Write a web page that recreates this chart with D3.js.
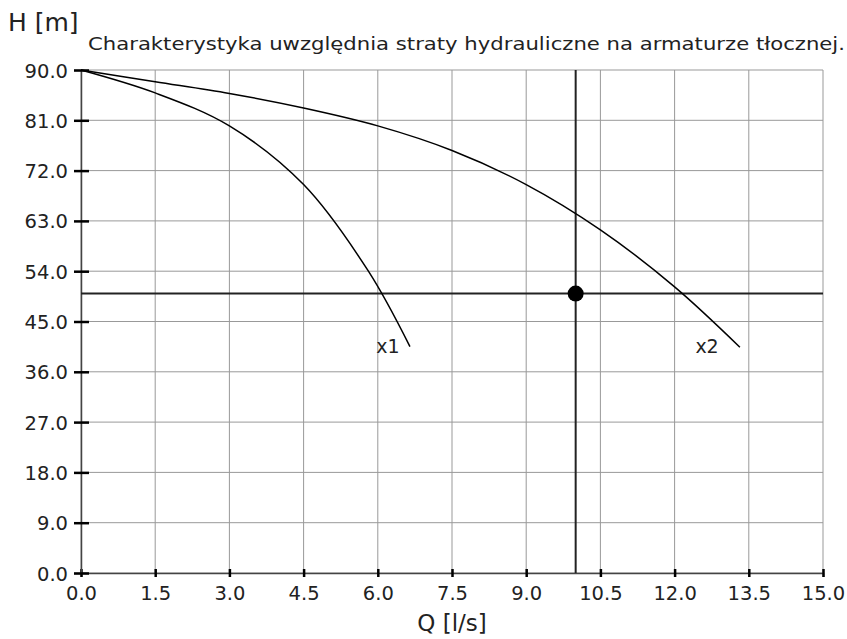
<!DOCTYPE html>
<html>
<head>
<meta charset="utf-8">
<script src="https://cdn.jsdelivr.net/npm/d3@7"></script>
<style>
    body { margin: 0; background: #fff; }
    svg { display: block; font-family: "DejaVu Sans", sans-serif; }
</style>
</head>
<body>
<div id="chart"></div>
<script>
// axis ticks
var qTicks = [0, 1.5, 3.0, 4.5, 6.0, 7.5, 9.0, 10.5, 12.0, 13.5, 15.0];
var hTicks = [0, 9, 18, 27, 36, 45, 54, 63, 72, 81, 90];

// pump curves
var x1Q = [0, 1.5, 3.0, 4.5, 5.81, 6.65];
var x1H = [90, 85.9, 80.0, 69.5, 54.0, 40.5];
var x2Q = [0, 1.5, 3.0, 4.5, 6.0, 7.5, 9.0, 10.5, 12.0, 13.32];
var x2H = [90, 87.9, 85.8, 83.2, 80.0, 75.6, 69.5, 61.4, 51.2, 40.4];

// curve labels
var curveNames = ['x1', 'x2'];
var labelQ = [5.97, 12.42];
var labelH = [40.5, 40.5];

// working point
var workQ = 10.0;
var workH = 50.0;

var width = 847, height = 639;
var margin = {top: 70, right: 24, bottom: 66, left: 81};

var svg = d3.select('#chart').append('svg')
    .attr('width', width)
    .attr('height', height);

var x = d3.scaleLinear().domain([0, 15]).range([margin.left, width - margin.right]);
var y = d3.scaleLinear().domain([0, 90]).range([height - margin.bottom, margin.top]);

// grid
var grid = svg.append('g').attr('stroke', '#999').attr('stroke-width', 1);
grid.selectAll('.vg').data(qTicks).enter().append('line')
    .attr('x1', function(d){ return x(d); })
    .attr('x2', function(d){ return x(d); })
    .attr('y1', y(0))
    .attr('y2', y(90));
grid.selectAll('.hg').data(hTicks).enter().append('line')
    .attr('x1', x(0))
    .attr('x2', x(15))
    .attr('y1', function(d){ return y(d); })
    .attr('y2', function(d){ return y(d); });

// axes
var xAxis = svg.append('g')
    .attr('transform', 'translate(0,' + y(0) + ')')
    .call(d3.axisBottom(x).tickValues(qTicks).tickFormat(d3.format('.1f')).tickSize(4));
var yAxis = svg.append('g')
    .attr('transform', 'translate(' + x(0) + ',0)')
    .call(d3.axisLeft(y).tickValues(hTicks).tickFormat(d3.format('.1f')).tickSize(7));

xAxis.select('.domain').attr('stroke', '#444').attr('stroke-width', 1.5);
yAxis.select('.domain').attr('stroke', '#444').attr('stroke-width', 1.5);

xAxis.selectAll('.tick line').attr('y1', -4).attr('y2', 4).attr('stroke', '#000').attr('stroke-width', 2.5);
yAxis.selectAll('.tick line').attr('x1', -7).attr('x2', 8).attr('stroke', '#000').attr('stroke-width', 2.5);

xAxis.selectAll('.tick text')
    .attr('y', 27).attr('dy', 0)
    .attr('font-size', 19.5).attr('fill', '#222')
    .attr('font-family', '"DejaVu Sans", sans-serif');
yAxis.selectAll('.tick text')
    .attr('x', -13).attr('dy', '0.36em')
    .attr('font-size', 19.5).attr('fill', '#222')
    .attr('font-family', '"DejaVu Sans", sans-serif');

// working point cross lines
svg.append('line')
    .attr('x1', x(0)).attr('x2', x(15))
    .attr('y1', y(workH)).attr('y2', y(workH))
    .attr('stroke', '#222').attr('stroke-width', 2);
svg.append('line')
    .attr('x1', x(workQ)).attr('x2', x(workQ))
    .attr('y1', y(0)).attr('y2', y(90))
    .attr('stroke', '#222').attr('stroke-width', 2);

// curves
var line = d3.line()
    .x(function(d){ return x(d[0]); })
    .y(function(d){ return y(d[1]); })
    .curve(d3.curveCatmullRom.alpha(0.5));

[d3.zip(x1Q, x1H), d3.zip(x2Q, x2H)].forEach(function(pts){
    svg.append('path')
        .attr('d', line(pts))
        .attr('fill', 'none')
        .attr('stroke', '#000')
        .attr('stroke-width', 1.5);
});

svg.selectAll('.clabel').data(curveNames).enter().append('text')
    .attr('x', function(d, i){ return x(labelQ[i]); })
    .attr('y', function(d, i){ return y(labelH[i]) + 6; })
    .attr('font-size', 19)
    .attr('fill', '#222')
    .text(function(d){ return d; });

svg.append('circle')
    .attr('cx', x(workQ))
    .attr('cy', y(workH))
    .attr('r', 8)
    .attr('fill', '#000');

// titles
svg.append('text')
    .attr('x', 8).attr('y', 31)
    .attr('font-size', 25)
    .attr('fill', '#222')
    .text('H [m]');

svg.append('text')
    .attr('x', 88).attr('y', 50)
    .attr('font-size', 17)
    .attr('fill', '#222')
    .attr('textLength', 757)
    .attr('lengthAdjust', 'spacingAndGlyphs')
    .text('Charakterystyka uwzględnia straty hydrauliczne na armaturze tłocznej.');

svg.append('text')
    .attr('x', (x(0) + x(15)) / 2).attr('y', 631)
    .attr('text-anchor', 'middle')
    .attr('font-size', 23)
    .attr('fill', '#222')
    .text('Q [l/s]');
</script>
</body>
</html>
